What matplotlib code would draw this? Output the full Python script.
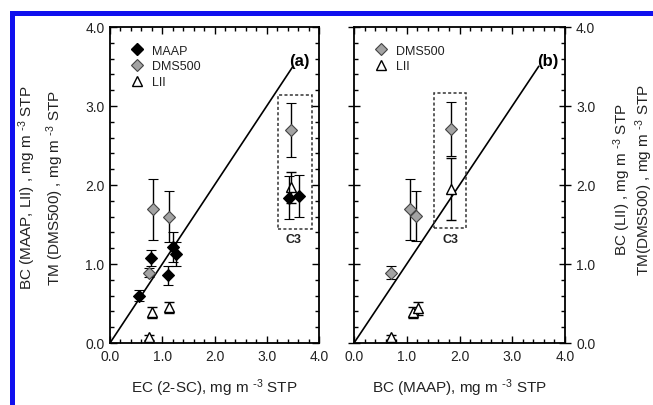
import matplotlib
matplotlib.use("Agg")
import matplotlib.pyplot as plt
from matplotlib.patches import Rectangle
from matplotlib.lines import Line2D
from matplotlib.ticker import MultipleLocator

plt.rcParams['font.family'] = ['Liberation Sans', 'DejaVu Sans']
plt.rcParams['mathtext.default'] = 'regular'

# ---- data panel (a): x = EC (2-SC)
maap_a_x = [0.55, 0.79, 1.11, 1.21, 1.26, 3.43, 3.62]
maap_a_y = [0.60, 1.08, 0.86, 1.22, 1.13, 1.84, 1.86]
maap_a_err = [0.07, 0.10, 0.12, 0.19, 0.15, 0.27, 0.27]

dms_a_x = [0.74, 0.83, 1.12, 3.47]
dms_a_y = [0.89, 1.69, 1.60, 2.70]
dms_a_err = [0.06, 0.38, 0.32, 0.34]

lii_a_x = [0.74, 0.81, 1.12, 3.47]
lii_a_y = [0.07, 0.39, 0.45, 1.97]
lii_a_err = [0.03, 0.07, 0.07, 0.20]

# ---- data panel (b): x = BC (MAAP)
dms_b_x = [0.71, 1.07, 1.18, 1.84]
dms_b_y = [0.89, 1.69, 1.61, 2.71]
dms_b_err = [0.08, 0.38, 0.32, 0.34]

lii_b_x = [0.71, 1.11, 1.21, 1.84]
lii_b_y = [0.07, 0.39, 0.44, 1.95]
lii_b_err = [0.03, 0.07, 0.08, 0.39]

one_to_one = [0.0, 3.5]
c3_box_a = (3.22, 1.44, 0.65, 1.70)
c3_box_b = (1.52, 1.45, 0.60, 1.71)

ticks = [0.0, 1.0, 2.0, 3.0, 4.0]
tick_labels = ['0.0', '1.0', '2.0', '3.0', '4.0']

GRAY = '#a3a3a3'
TXT = '#222222'

W, H = 653, 406
fig = plt.figure(figsize=(W / 100, H / 100), dpi=100)

axa = fig.add_axes([110 / W, 1 - 344 / H, 209 / W, 316 / H])
axb = fig.add_axes([354 / W, 1 - 344 / H, 211 / W, 316 / H])

ebkw = dict(capsize=3.5, elinewidth=1.0, capthick=1.0, ecolor='black', linestyle='none')
UNIT = r'mg m $^{\text{-}3}$ STP'


def style(ax, right_labels=False):
    ax.set_xlim(0, 4)
    ax.set_ylim(0, 4)
    ax.set_xticks(ticks)
    ax.set_xticklabels(tick_labels)
    ax.set_yticks(ticks)
    ax.set_yticklabels(tick_labels)
    ax.xaxis.set_minor_locator(MultipleLocator(0.2))
    ax.yaxis.set_minor_locator(MultipleLocator(0.2))
    for s in ax.spines.values():
        s.set_linewidth(1.3)
    ax.tick_params(which='both', direction='in', top=True, right=True,
                   labelsize=10, labelcolor=TXT, width=1.0)
    ax.tick_params(which='major', length=5, pad=4)
    ax.tick_params(which='minor', length=3)
    if right_labels:
        ax.tick_params(axis='y', labelleft=False, labelright=True)
        ax.tick_params(axis='y', which='major', direction='inout', length=8)


style(axa)
style(axb, right_labels=True)

h_maap = Line2D([], [], marker='D', ms=6, mfc='black', mec='black', ls='none')
h_dms = Line2D([], [], marker='D', ms=6, mfc=GRAY, mec='#444444', mew=0.8, ls='none')
h_lii = Line2D([], [], marker='^', ms=7, mfc='white', mec='black', mew=1.0, ls='none')
legkw = dict(loc='upper left', frameon=False, fontsize=9, handletextpad=0.6,
             labelspacing=0.3, handlelength=1.2, labelcolor=TXT)

# panel (a)
axa.plot(one_to_one, one_to_one, color='black', lw=1.2, zorder=1)
axa.add_patch(Rectangle(c3_box_a[:2], c3_box_a[2], c3_box_a[3], fill=False,
                        ls=(0, (2, 1.5)), lw=1.1, ec='#333333', zorder=1))
axa.errorbar(dms_a_x, dms_a_y, yerr=dms_a_err, marker='D', ms=6, mfc=GRAY,
             mec='#444444', mew=0.8, zorder=3, **ebkw)
axa.errorbar(lii_a_x, lii_a_y, yerr=lii_a_err, marker='^', ms=7, mfc='white',
             mec='black', mew=1.0, zorder=3, **ebkw)
axa.errorbar(maap_a_x, maap_a_y, yerr=maap_a_err, marker='D', ms=6, mfc='black',
             mec='black', mew=0.8, zorder=4, **ebkw)
axa.text(3.52, 1.32, 'C3', ha='center', va='center', fontsize=9,
         fontweight='bold', color=TXT)
axa.text(3.62, 3.57, '(a)', ha='center', va='center', fontsize=12,
         fontweight='bold', color='black')
axa.legend([h_maap, h_dms, h_lii], ['MAAP', 'DMS500', 'LII'],
           bbox_to_anchor=(0.04, 0.98), **legkw)

# panel (b)
axb.plot(one_to_one, one_to_one, color='black', lw=1.2, zorder=1)
axb.add_patch(Rectangle(c3_box_b[:2], c3_box_b[2], c3_box_b[3], fill=False,
                        ls=(0, (2, 1.5)), lw=1.1, ec='#333333', zorder=1))
axb.errorbar(dms_b_x, dms_b_y, yerr=dms_b_err, marker='D', ms=6, mfc=GRAY,
             mec='#444444', mew=0.8, zorder=3, **ebkw)
axb.errorbar(lii_b_x, lii_b_y, yerr=lii_b_err, marker='^', ms=7, mfc='white',
             mec='black', mew=1.0, zorder=3, **ebkw)
axb.text(1.82, 1.32, 'C3', ha='center', va='center', fontsize=9,
         fontweight='bold', color=TXT)
axb.text(3.67, 3.57, '(b)', ha='center', va='center', fontsize=12,
         fontweight='bold', color='black')
axb.legend([h_dms, h_lii], ['DMS500', 'LII'], bbox_to_anchor=(0.04, 0.98), **legkw)

# axis labels
axa.set_xlabel('EC (2-SC), ' + UNIT, fontsize=11, color=TXT, labelpad=10)
axb.set_xlabel('BC (MAAP), ' + UNIT, fontsize=11, color=TXT, labelpad=10)

fig.text(27 / W, 1 - 188 / H, 'BC (MAAP, LII) , ' + UNIT, rotation=90,
         ha='center', va='center', fontsize=11, color=TXT)
fig.text(55 / W, 1 - 188 / H, 'TM (DMS500) , ' + UNIT, rotation=90,
         ha='center', va='center', fontsize=11, color=TXT)
fig.text(622 / W, 1 - 180 / H, 'BC (LII) , ' + UNIT, rotation=90,
         ha='center', va='center', fontsize=11, color=TXT)
fig.text(644 / W, 1 - 180 / H, 'TM(DMS500) , ' + UNIT, rotation=90,
         ha='center', va='center', fontsize=11, color=TXT)

# blue frame (left and top)
fig.add_artist(Rectangle((9.5 / W, 0), 5.5 / W, 1 - 12 / H,
                         transform=fig.transFigure, color='#1010ee', lw=0))
fig.add_artist(Rectangle((9.5 / W, 1 - 17 / H), 1, 5 / H,
                         transform=fig.transFigure, color='#1010ee', lw=0))

fig.savefig('out.png', dpi=100)
